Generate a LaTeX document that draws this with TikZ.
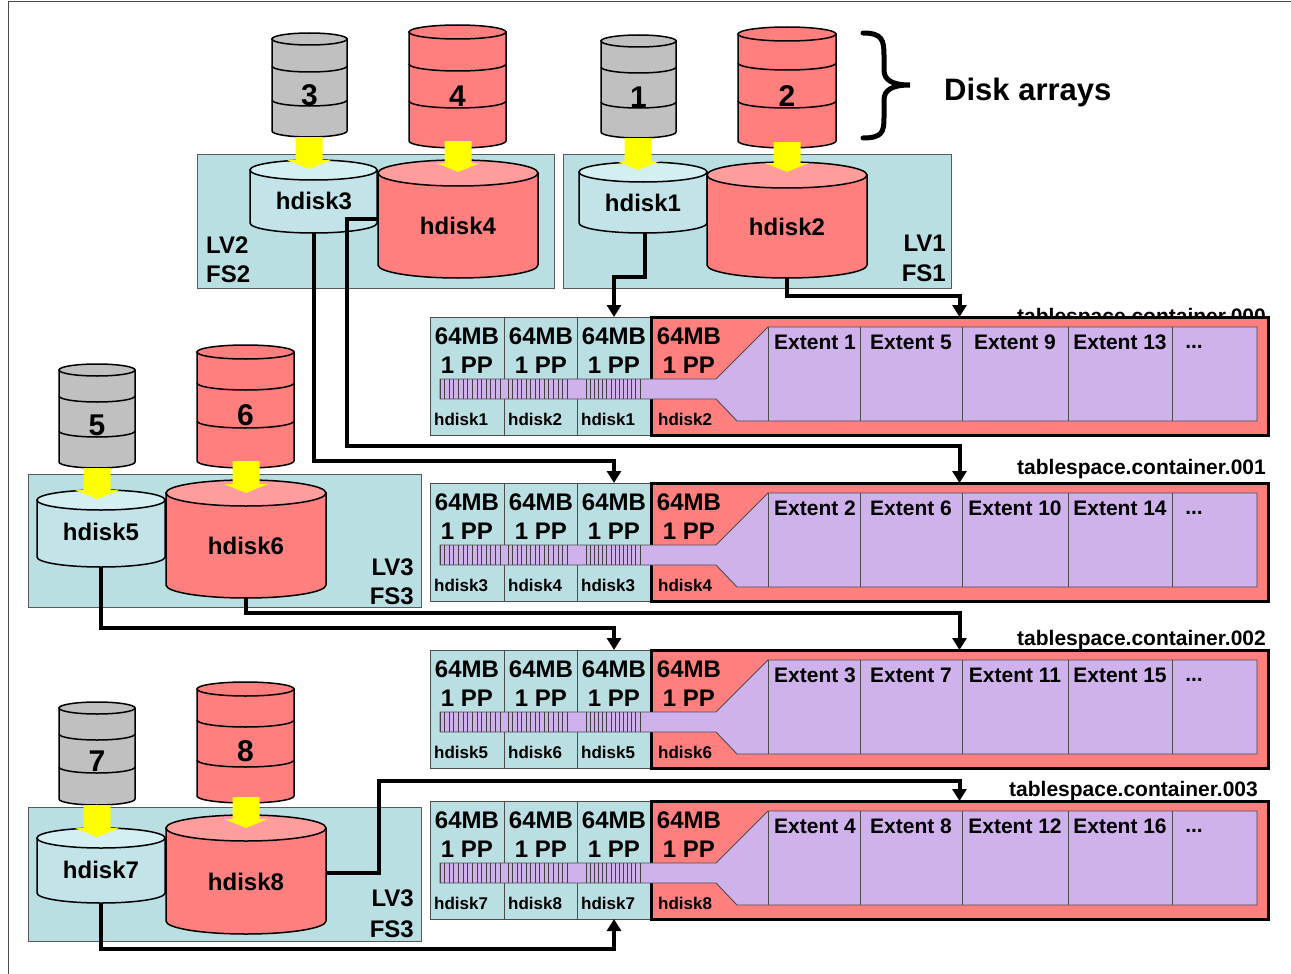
\documentclass[tikz,border=0pt]{standalone}
\usepackage{fontspec}
\setmainfont{Liberation Sans}
\usetikzlibrary{arrows.meta}

\definecolor{lvfill}{HTML}{BADFE3}
\definecolor{cyanbody}{HTML}{C2E4E8}
\definecolor{cyantop}{HTML}{D4EFF2}
\definecolor{diskred}{HTML}{FF7F7F}
\definecolor{diskredtop}{HTML}{FF9C9C}
\definecolor{diskgray}{HTML}{C0C0C0}
\definecolor{extpurple}{HTML}{CFB1EC}
\definecolor{arrowyellow}{HTML}{FFFF00}

\tikzset{
  lvbox/.style={fill=lvfill, draw=black!65, line width=0.9pt},
  cellbox/.style={rectangle, fill=lvfill, draw=black!70, line width=0.9pt,
    minimum width=74pt, minimum height=118pt, inner sep=0pt, outer sep=0pt},
  redbox/.style={rectangle, fill=diskred, draw=black, line width=3pt,
    minimum width=617pt, minimum height=118pt, inner sep=0pt, outer sep=0pt},
  extentarea/.style={fill=extpurple, draw=black!70, line width=0.9pt},
  bigtxt/.style={font=\fontsize{24}{26}\selectfont\bfseries, inner sep=0pt},
  smalltxt/.style={font=\fontsize{17}{19}\selectfont\bfseries, inner sep=0pt},
  exttxt/.style={font=\fontsize{21}{23}\selectfont\bfseries, inner sep=0pt},
  numtxt/.style={font=\fontsize{30}{32}\selectfont\bfseries, inner sep=0pt},
  conn/.style={line width=4pt, -{Triangle[length=12pt,width=14pt]}},
}

% cylinder: centre x, top-ellipse y, bottom-ellipse y, rx, ry, body colour, lid colour
\newcommand\cylinder[7]{%
  \filldraw[fill=#6, draw=black, line width=1.5pt]
    (#1-#4,#2) -- (#1-#4,#3)
    arc[start angle=180, end angle=360, x radius=#4pt, y radius=#5pt]
    -- (#1+#4,#2) -- cycle;
  \filldraw[fill=#7, draw=black, line width=1.5pt]
    (#1,#2) ellipse[x radius=#4pt, y radius=#5pt];
}
% separating rings on a disk array: centre x, rx, ry, ring y
\newcommand\ring[4]{%
  \draw[black, line width=1.5pt] (#1-#2,#4)
    arc[start angle=180, end angle=360, x radius=#2pt, y radius=#3pt];
}
% yellow block arrow: centre x, top y, tip y
\newcommand\yarrow[3]{%
  \fill[arrowyellow] (#1-13.5,#2) -- (#1-13.5,#3-9) -- (#1-22,#3-9) -- (#1,#3)
    -- (#1+22,#3-9) -- (#1+13.5,#3-9) -- (#1+13.5,#2) -- cycle;
}
% one container row: row index, top y, first hdisk, second hdisk
\newcommand\containerrow[4]{%
  \pgfmathtruncatemacro\extA{#1+1}%
  \pgfmathtruncatemacro\extB{#1+5}%
  \pgfmathtruncatemacro\extC{#1+9}%
  \pgfmathtruncatemacro\extD{#1+13}%
  \foreach \c/\cx/\h in {1/467/#3,2/541/#4,3/614/#3}{%
    \node[cellbox] (r#1c\c) at (\cx,#2+59) {};
    \node[bigtxt] (r#1m\c) at (\cx,#2+19) {64MB};
    \node[bigtxt] (r#1p\c) at (\cx,#2+48) {1 PP};
    \node[smalltxt,anchor=west] (r#1d\c) at (\cx-33,#2+102) {hdisk\h};
  }
  \node[redbox] (box#1) at (959.5,#2+59) {};
  \filldraw[extentarea] (440,#2+62) -- (716,#2+62) -- (768,#2+10) -- (1257,#2+10)
    -- (1257,#2+104) -- (737,#2+104) -- (716,#2+82) -- (440,#2+82) -- cycle;
  \foreach \a/\b in {440/500,508/567,586/640}{%
    \foreach \i in {0,...,13}{%
      \draw[black!75, line width=0.8pt] ({\a+\i*(\b-\a)/13},#2+62) -- ({\a+\i*(\b-\a)/13},#2+82);
    }
  }
  \foreach \x in {768,860,962,1068,1172}{%
    \draw[black!70, line width=0.9pt] (\x,#2+10) -- (\x,#2+104);
  }
  \node[bigtxt] (r#1m4) at (689,#2+19) {64MB};
  \node[bigtxt] (r#1p4) at (689,#2+48) {1 PP};
  \node[smalltxt,anchor=west] (r#1d4) at (658,#2+102) {hdisk#4};
  \node[exttxt] (r#1e1) at (815,#2+25) {Extent \extA};
  \node[exttxt] (r#1e2) at (911,#2+25) {Extent \extB};
  \node[exttxt] (r#1e3) at (1015,#2+25) {Extent \extC};
  \node[exttxt] (r#1e4) at (1120,#2+25) {Extent \extD};
  \node[exttxt, anchor=base] (r#1e5) at (1194,#2+31) {...};
}

\begin{document}
\begin{tikzpicture}[x=1pt,y=-1pt]
\useasboundingbox (0,0) rectangle (1291,974);
\fill[white] (0,0) rectangle (1291,974);
\draw[black!70, line width=1pt] (8,974) -- (8,2) -- (1291,2);

% label partly hidden behind the first container
\node[exttxt, anchor=base east] (tc0) at (1266,323) {tablespace.container.000};

% logical volume boxes
\filldraw[lvbox] (197,154) rectangle (554,288);
\filldraw[lvbox] (563,154) rectangle (951,288);
\filldraw[lvbox] (28,474) rectangle (421,607);
\filldraw[lvbox] (28,807) rectangle (421,941);

\node[bigtxt, anchor=west] (lv2) at (206,245) {LV2};
\node[bigtxt, anchor=west] (fs2) at (206,274) {FS2};
\node[bigtxt, anchor=east] (lv1) at (946,243) {LV1};
\node[bigtxt, anchor=east] (fs1) at (946,273) {FS1};
\node[bigtxt, anchor=east] (lv3a) at (414,567) {LV3};
\node[bigtxt, anchor=east] (fs3a) at (414,596) {FS3};
\node[bigtxt, anchor=east] (lv3b) at (414,898) {LV3};
\node[bigtxt, anchor=east] (fs3b) at (414,929) {FS3};

% disk arrays
\cylinder{309.5}{39}{131}{37.5}{6}{diskgray}{diskgray}
\ring{309.5}{37.5}{6}{66}\ring{309.5}{37.5}{6}{100}
\node[numtxt] (arr3) at (309.5,95) {3};
\cylinder{457.5}{32}{141}{48.5}{7}{diskred}{diskred}
\ring{457.5}{48.5}{7}{64}\ring{457.5}{48.5}{7}{101}
\node[numtxt] (arr4) at (457.5,96) {4};
\cylinder{638.5}{41}{132}{37.5}{6}{diskgray}{diskgray}
\ring{638.5}{37.5}{6}{67}\ring{638.5}{37.5}{6}{102}
\node[numtxt] (arr1) at (638.5,97) {1};
\cylinder{787}{34}{141}{49}{7}{diskred}{diskred}
\ring{787}{49}{7}{63}\ring{787}{49}{7}{101}
\node[numtxt] (arr2) at (787,96) {2};
\cylinder{97}{370}{462}{38}{6}{diskgray}{diskgray}
\ring{97}{38}{6}{396}\ring{97}{38}{6}{431}
\node[numtxt] (arr5) at (97,425) {5};
\cylinder{245.5}{352}{461}{48.5}{7}{diskred}{diskred}
\ring{245.5}{48.5}{7}{383}\ring{245.5}{48.5}{7}{421}
\node[numtxt] (arr6) at (245.5,415) {6};
\cylinder{97}{708}{799}{38}{6}{diskgray}{diskgray}
\ring{97}{38}{6}{734}\ring{97}{38}{6}{767}
\node[numtxt] (arr7) at (97,761) {7};
\cylinder{245.5}{689}{796}{48.5}{7}{diskred}{diskred}
\ring{245.5}{48.5}{7}{720}\ring{245.5}{48.5}{7}{760}
\node[numtxt] (arr8) at (245.5,751) {8};

% hdisks
\cylinder{313.5}{170}{223}{63.5}{10}{cyanbody}{cyantop}
\node[bigtxt] (hd3) at (314,201) {hdisk3};
\cylinder{458}{173}{265}{80}{13}{diskred}{diskredtop}
\node[bigtxt] (hd4) at (458,226) {hdisk4};
\cylinder{643}{172}{223}{64}{10}{cyanbody}{cyantop}
\node[bigtxt] (hd1) at (643,203) {hdisk1};
\cylinder{787}{175}{265}{80}{13}{diskred}{diskredtop}
\node[bigtxt] (hd2) at (787,227) {hdisk2};
\cylinder{101}{500}{557}{64}{10}{cyanbody}{cyantop}
\node[bigtxt] (hd5) at (101,532) {hdisk5};
\cylinder{246}{493}{585}{80}{13}{diskred}{diskredtop}
\node[bigtxt] (hd6) at (246,546) {hdisk6};
\cylinder{101}{838}{893}{64}{10}{cyanbody}{cyantop}
\node[bigtxt] (hd7) at (101,870) {hdisk7};
\cylinder{246}{828}{921}{80}{13}{diskred}{diskredtop}
\node[bigtxt] (hd8) at (246,882) {hdisk8};

% arrays feeding hdisks
\yarrow{309}{137}{169}
\yarrow{458}{141}{172}
\yarrow{638}{138}{170}
\yarrow{787}{142}{172}
\yarrow{97}{468}{499}
\yarrow{246}{461}{493}
\yarrow{97}{805}{837}
\yarrow{246}{797}{828}

% containers
\containerrow{0}{317}{1}{2}
\containerrow{1}{483}{3}{4}
\containerrow{2}{650}{5}{6}
\containerrow{3}{801}{7}{8}

\node[exttxt, anchor=base east] (tc1) at (1266,474) {tablespace.container.001};
\node[exttxt, anchor=base east] (tc2) at (1266,645) {tablespace.container.002};
\node[exttxt, anchor=base east] (tc3) at (1258,796) {tablespace.container.003};

% hdisk to partition links
\coordinate (hd1-s) at (645,233);
\coordinate (hd2-s) at (787,278);
\coordinate (hd3-s) at (314,233);
\coordinate (hd4-w) at (378,219);
\coordinate (hd5-s) at (101,567);
\coordinate (hd6-s) at (246,597);
\coordinate (hd7-s) at (101,903);
\coordinate (hd8-e) at (326,873);
\draw[conn] (hd1-s) -- (645,277) -- (614,277) -- (r0c3.north);
\draw[conn] (hd2-s) -- (787,296) -- (959.5,296) -- (box0.north);
\draw[conn] (hd3-s) -- (314,461) -- (614,461) -- (r1c3.north);
\draw[conn] (hd4-w) -- (347,219) -- (347,446) -- (959.5,446) -- (box1.north);
\draw[conn] (hd5-s) -- (101,628) -- (614,628) -- (r2c3.north);
\draw[conn] (hd6-s) -- (246,613) -- (959.5,613) -- (box2.north);
\draw[conn] (hd7-s) -- (101,949) -- (614,949) -- (r3c3.south);
\draw[conn] (hd8-e) -- (379,873) -- (379,781) -- (959.5,781) -- (box3.north);

% brace and caption
\draw[line width=5pt, line cap=round] (863,33) .. controls (882,33) and (884,40) .. (884,55)
  -- (884,70) .. controls (884,80) and (892,85) .. (910,85)
  .. controls (892,85) and (884,90) .. (884,100) -- (884,118)
  .. controls (884,132) and (882,138) .. (863,138);
\node[font=\fontsize{31}{33}\selectfont\bfseries, inner sep=0pt, anchor=west] (cap) at (944,92) {Disk arrays};
\end{tikzpicture}
\end{document}
